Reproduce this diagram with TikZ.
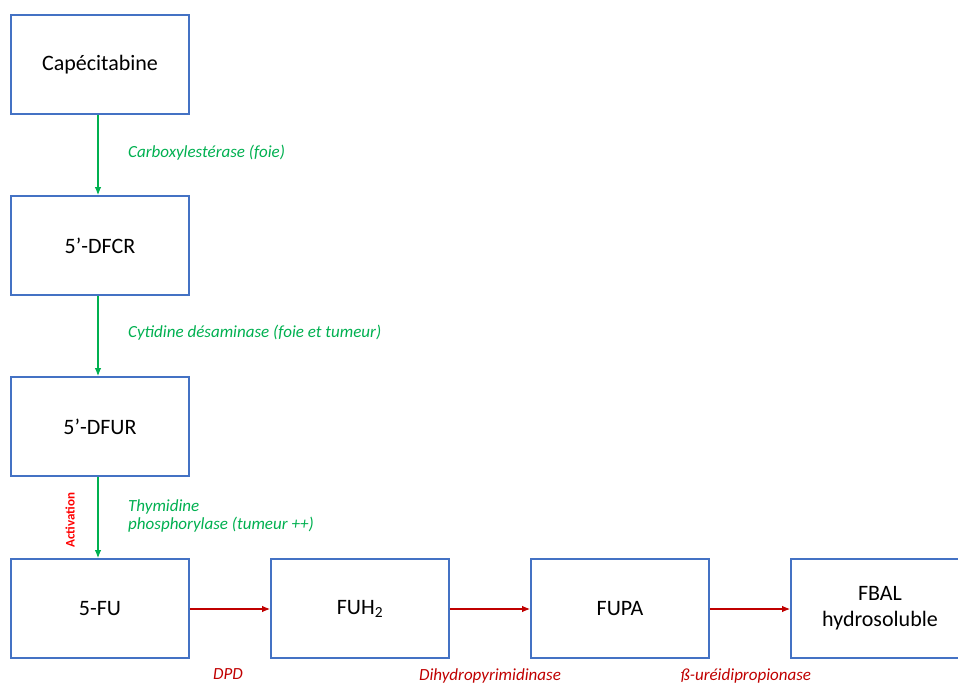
\documentclass[tikz,border=0pt]{standalone}
\usepackage{fontspec}
\setmainfont{Carlito}
\usetikzlibrary{arrows.meta}
\definecolor{boxblue}{RGB}{68,114,196}
\definecolor{enzgreen}{RGB}{0,176,80}
\definecolor{darkred}{RGB}{192,0,0}
\definecolor{brightred}{RGB}{255,0,0}
\tikzset{
  stagebox/.style={draw=boxblue, line width=1.8pt, fill=white, minimum width=178pt, minimum height=99pt, inner sep=0pt, font=\fontsize{22}{26}\selectfont, align=center},
  greenarrow/.style={draw=enzgreen, line width=1.1pt, -{Latex[length=8pt,width=6.5pt]}},
  redarrow/.style={draw=darkred, line width=1.1pt, -{Latex[length=8pt,width=6.5pt]}},
  greenlabel/.style={text=enzgreen, font=\fontsize{17}{18.5}\selectfont\itshape, anchor=west, inner sep=0pt, align=left},
  redlabel/.style={text=darkred, font=\fontsize{17}{20}\selectfont\itshape, inner sep=0pt},
}
\begin{document}
\begin{tikzpicture}[x=1pt,y=-1pt]
\useasboundingbox (0,0) rectangle (958,684);
\node[stagebox] (cape) at (100,64.5) {Capécitabine};
\node[stagebox] (dfcr) at (100,245.5) {5’-DFCR};
\node[stagebox] (dfur) at (100,426.5) {5’-DFUR};
\node[stagebox] (fu) at (100,608.5) {5-FU};
\node[stagebox] (fuh) at (360,608.5) {FUH\textsubscript{2}};
\node[stagebox] (fupa) at (620,608.5) {FUPA};
\node[stagebox] (fbal) at (880,608.5) {FBAL\\hydrosoluble};
\draw[greenarrow] (cape.south -| 98,0) -- (dfcr.north -| 98,0);
\draw[greenarrow] (dfcr.south -| 98,0) -- (dfur.north -| 98,0);
\draw[greenarrow] (dfur.south -| 98,0) -- (fu.north -| 98,0);
\draw[redarrow] (fu.east |- 0,609) -- (fuh.west |- 0,609);
\draw[redarrow] (fuh.east |- 0,609) -- (fupa.west |- 0,609);
\draw[redarrow] (fupa.east |- 0,609) -- (fbal.west |- 0,609);
\node[greenlabel] (l1) at (128,153) {Carboxylestérase (foie)};
\node[greenlabel] (l2) at (128,333) {Cytidine désaminase (foie et tumeur)};
\node[greenlabel] (l3) at (128,516) {Thymidine\\phosphorylase (tumeur ++)};
\node[text=brightred, font=\fontsize{13}{15}\selectfont\bfseries, rotate=90, inner sep=0pt] (act) at (70,520) {Activation};
\node[redlabel] (dpd) at (228,674) {DPD};
\node[redlabel] (dhp) at (490,676) {Dihydropyrimidinase};
\node[redlabel] (bur) at (746,676) {ß-uréidipropionase};
\end{tikzpicture}
\end{document}
